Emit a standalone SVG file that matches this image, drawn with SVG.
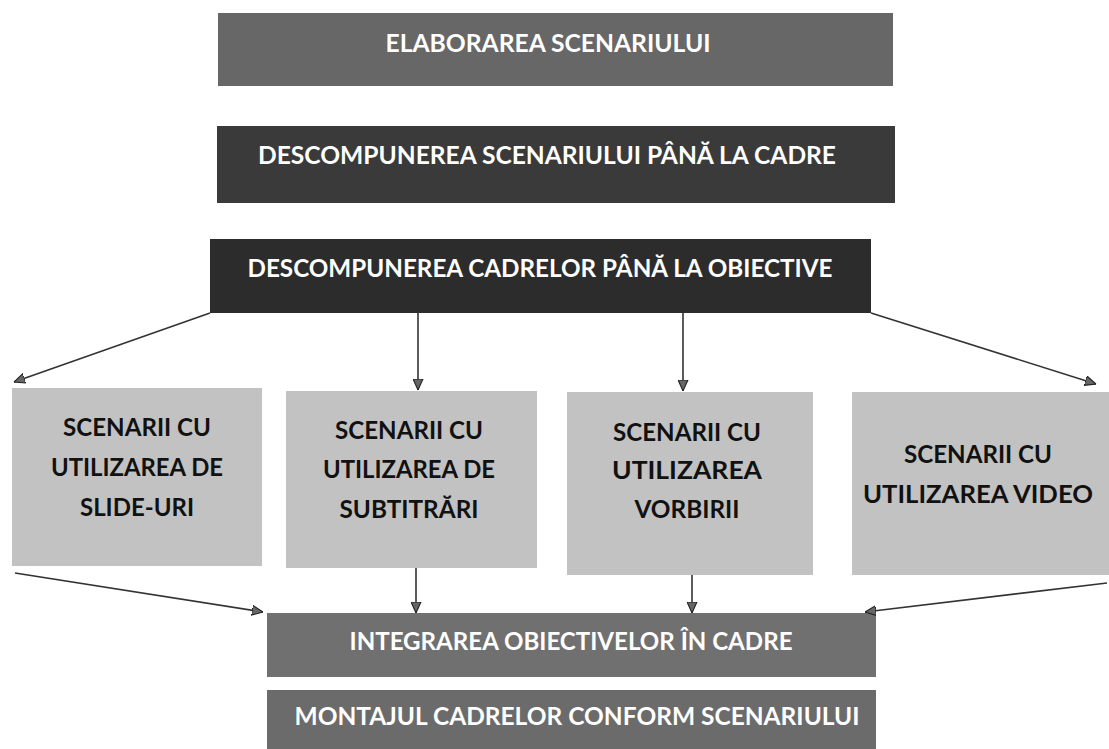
<svg xmlns="http://www.w3.org/2000/svg" width="1109" height="749" viewBox="0 0 1109 749">
<defs>
<marker id="ah" viewBox="0 0 10 10" refX="10" refY="5" markerWidth="11" markerHeight="11" markerUnits="userSpaceOnUse" orient="auto">
<path d="M0,0.5 L10,5 L0,9.5 z" fill="#666" stroke="#222" stroke-width="1"/>
</marker>
<style>
.bar text{font-family:Lato,"Open Sans","Liberation Sans",sans-serif;font-weight:700;fill:#fff;font-size:25px;text-anchor:middle}
.sc rect{fill:#c2c2c2}
.sc text{font-family:Lato,"Open Sans","Liberation Sans",sans-serif;font-weight:700;fill:#111;font-size:25px;text-anchor:middle}
.conn line{stroke:#333;stroke-width:1.6;marker-end:url(#ah)}
</style>
</defs>
<rect width="1109" height="749" fill="#fff"/>
<g id="n1" class="bar"><rect x="218" y="13" width="675" height="73" fill="#676767"/><text x="548" y="52" textLength="325" lengthAdjust="spacingAndGlyphs">ELABORAREA SCENARIULUI</text></g>
<g id="n2" class="bar"><rect x="217" y="126" width="678" height="77" fill="#3a3a3a"/><text x="547" y="164" textLength="578" lengthAdjust="spacingAndGlyphs">DESCOMPUNEREA SCENARIULUI PÂNĂ LA CADRE</text></g>
<g id="n3" class="bar"><rect x="210" y="239" width="661" height="74" fill="#2c2c2c"/><text x="540" y="277" textLength="585" lengthAdjust="spacingAndGlyphs">DESCOMPUNEREA CADRELOR PÂNĂ LA OBIECTIVE</text></g>
<g id="s1" class="sc"><rect x="12" y="388" width="250" height="178"/><text x="137" y="436" textLength="148" lengthAdjust="spacingAndGlyphs">SCENARII CU</text><text x="137" y="476" textLength="172" lengthAdjust="spacingAndGlyphs">UTILIZAREA DE</text><text x="137" y="516" textLength="114" lengthAdjust="spacingAndGlyphs">SLIDE-URI</text></g>
<g id="s2" class="sc"><rect x="286" y="391" width="251" height="177"/><text x="409" y="439" textLength="148" lengthAdjust="spacingAndGlyphs">SCENARII CU</text><text x="409" y="478" textLength="172" lengthAdjust="spacingAndGlyphs">UTILIZAREA DE</text><text x="409" y="518" textLength="139" lengthAdjust="spacingAndGlyphs">SUBTITRĂRI</text></g>
<g id="s3" class="sc"><rect x="567" y="392" width="246" height="183"/><text x="687" y="441" textLength="148" lengthAdjust="spacingAndGlyphs">SCENARII CU</text><text x="687" y="479" textLength="150" lengthAdjust="spacingAndGlyphs">UTILIZAREA</text><text x="687" y="518" textLength="105" lengthAdjust="spacingAndGlyphs">VORBIRII</text></g>
<g id="s4" class="sc"><rect x="852" y="392" width="257" height="183"/><text x="978" y="463" textLength="148" lengthAdjust="spacingAndGlyphs">SCENARII CU</text><text x="978" y="503" textLength="230" lengthAdjust="spacingAndGlyphs">UTILIZAREA VIDEO</text></g>
<g id="n4" class="bar"><rect x="267" y="613" width="609" height="64" fill="#707070"/><text x="571" y="650" textLength="443" lengthAdjust="spacingAndGlyphs">INTEGRAREA OBIECTIVELOR ÎN CADRE</text></g>
<g id="n5" class="bar"><rect x="267" y="690" width="609" height="59" fill="#6b6b6b"/><text x="577" y="725" textLength="565" lengthAdjust="spacingAndGlyphs">MONTAJUL CADRELOR CONFORM SCENARIULUI</text></g>
<g id="connectors" class="conn">
<line x1="210" y1="313" x2="14" y2="382"/>
<line x1="418" y1="313" x2="418" y2="390"/>
<line x1="683" y1="313" x2="683" y2="391"/>
<line x1="871" y1="313" x2="1096" y2="384"/>
<line x1="15" y1="573" x2="263" y2="612"/>
<line x1="416" y1="568" x2="416" y2="613"/>
<line x1="692" y1="575" x2="692" y2="613"/>
<line x1="1107" y1="583" x2="865" y2="612"/>
</g>
</svg>
